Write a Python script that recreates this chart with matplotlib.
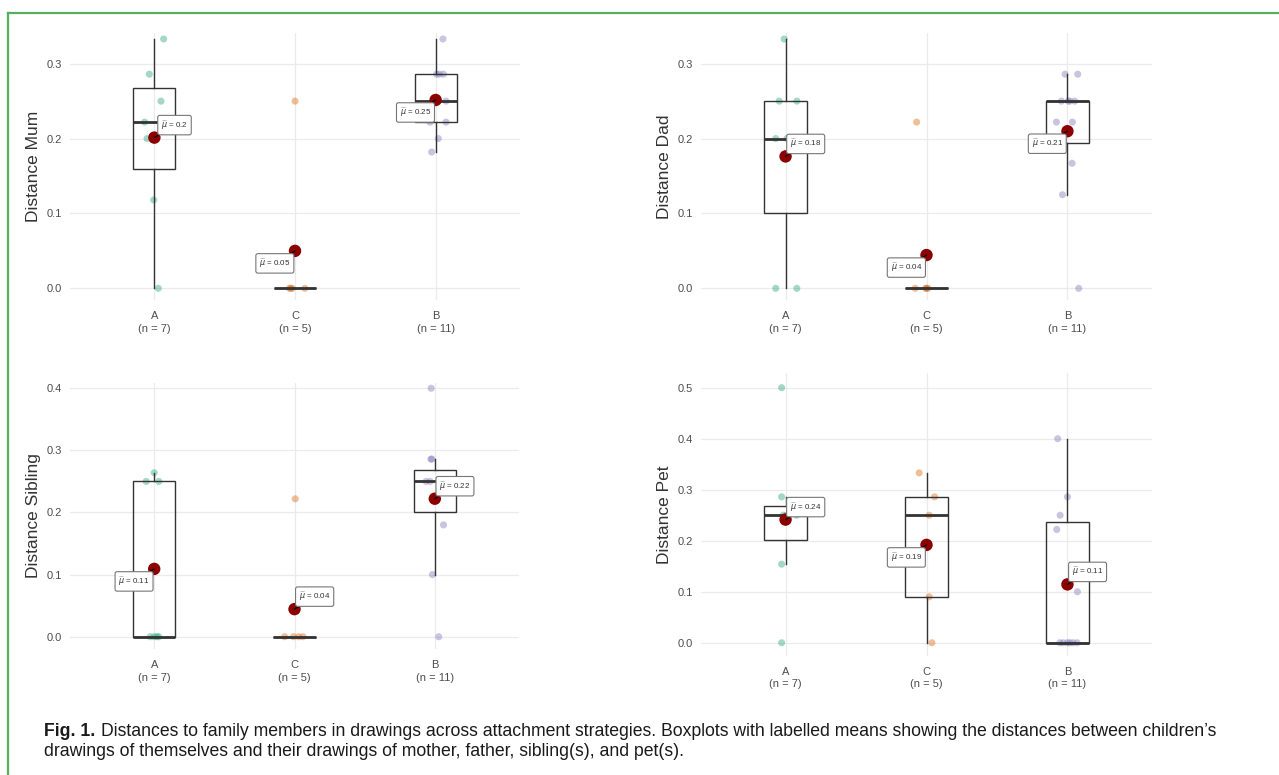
import numpy as np
import matplotlib
matplotlib.use("Agg")
import matplotlib.pyplot as plt
from matplotlib.lines import Line2D
from matplotlib.ticker import FormatStrFormatter

plt.rcParams["font.family"] = ["Liberation Sans", "DejaVu Sans"]

W, H = 1279, 775

# groups in plotted order, Dark2 colours
groups = ["A", "C", "B"]
group_colors = ["#1B9E77", "#D95F02", "#7570B3"]

# distances per group (A, C, B)
mum_values = [
    [0.333, 0.286, 0.25, 0.222, 0.2, 0.118, 0.0],
    [0.25, 0.0, 0.0, 0.0, 0.0],
    [0.333, 0.286, 0.286, 0.286, 0.25, 0.25, 0.25, 0.222, 0.222, 0.2, 0.182],
]
dad_values = [
    [0.333, 0.25, 0.25, 0.2, 0.2, 0.0, 0.0],
    [0.222, 0.0, 0.0, 0.0, 0.0],
    [0.286, 0.286, 0.25, 0.25, 0.25, 0.25, 0.222, 0.222, 0.167, 0.125, 0.0],
]
sibling_values = [
    [0.264, 0.25, 0.25, 0.0, 0.0, 0.0, 0.0],
    [0.222, 0.0, 0.0, 0.0, 0.0],
    [0.0, 0.1, 0.18, 0.22, 0.222, 0.25, 0.25, 0.25, 0.286, 0.286, 0.4],
]
pet_values = [
    [0.5, 0.286, 0.25, 0.25, 0.25, 0.154, 0.0],
    [0.333, 0.286, 0.25, 0.09, 0.0],
    [0.4, 0.286, 0.25, 0.222, 0.1, 0.0, 0.0, 0.0, 0.0, 0.0, 0.0],
]

# horizontal jitter of each point (category units)
mum_jitter = [
    [0.066, -0.036, 0.047, -0.069, -0.052, -0.005, 0.028],
    [0.0, -0.03, 0.07, -0.04, -0.02],
    [0.052, 0.026, 0.055, 0.007, 0.074, -0.017, 0.019, -0.04, 0.074, 0.019, -0.028],
]
dad_jitter = [
    [-0.01, -0.045, 0.08, -0.07, 0.01, -0.07, 0.08],
    [-0.07, -0.08, 0.0, -0.005, 0.01],
    [-0.017, 0.073, -0.043, 0.005, 0.052, 0.017, -0.078, 0.035, 0.033, -0.035, 0.08],
]
sibling_jitter = [
    [0.0, -0.057, 0.033, -0.028, 0.033, 0.0, 0.02],
    [0.005, -0.07, 0.03, 0.06, -0.007],
    [0.028, -0.017, 0.062, -0.01, 0.014, -0.062, 0.038, -0.033, -0.028, -0.021, -0.026],
]
pet_jitter = [
    [-0.028, -0.028, 0.078, 0.007, -0.017, -0.028, -0.028],
    [-0.052, 0.057, 0.019, 0.019, 0.038],
    [-0.069, 0.0, -0.052, -0.076, 0.071, -0.054, 0.0, 0.04, 0.069, -0.03, 0.017],
]

y_labels = ["Distance Mum", "Distance Dad", "Distance Sibling", "Distance Pet"]
y_ticks = [
    [0.0, 0.1, 0.2, 0.3],
    [0.0, 0.1, 0.2, 0.3],
    [0.0, 0.1, 0.2, 0.3, 0.4],
    [0.0, 0.1, 0.2, 0.3, 0.4, 0.5],
]

caption_bold = "Fig. 1."
caption_line1 = ("Distances to family members in drawings across attachment strategies. "
                 "Boxplots with labelled means showing the distances between children\u2019s")
caption_line2 = "drawings of themselves and their drawings of mother, father, sibling(s), and pet(s)."

# layout (pixels): left, top, right, bottom of each panel
panel_px = [
    (70, 33, 520, 300),
    (701, 33, 1152, 300),
    (70, 383, 519, 649),
    (701, 373, 1152, 655.5),
]
panel_ylim = [(-0.0156, 0.341), (-0.0156, 0.341), (-0.0198, 0.4085), (-0.025, 0.5288)]
# +1: mean label up/right of the point, -1: down/left
label_side = [[1, -1, -1], [1, -1, -1], [-1, 1, 1], [1, -1, 1]]

TEXT = "#4d4d4d"
GRID = "#ebebeb"
LINE = "#333333"


def px_rect(l, t, r, b):
    return [l / W, 1 - b / H, (r - l) / W, (b - t) / H]


def fmt_mean(m):
    s = f"{m:.2f}".rstrip("0").rstrip(".")
    return r"$\widehat{\mu}$ = " + s


fig = plt.figure(figsize=(W / 100, H / 100), dpi=100)

panels = [
    (mum_values, mum_jitter),
    (dad_values, dad_jitter),
    (sibling_values, sibling_jitter),
    (pet_values, pet_jitter),
]
pos = np.arange(1, len(groups) + 1)

for k, (values, jitter) in enumerate(panels):
    ax = fig.add_axes(px_rect(*panel_px[k]))

    # jittered raw points
    for i, (vals, jit) in enumerate(zip(values, jitter)):
        ax.scatter(pos[i] + np.array(jit), vals, s=26, color=group_colors[i],
                   alpha=0.4, edgecolors="none", zorder=2)

    ax.boxplot(values, positions=pos, widths=0.3, showfliers=False, showcaps=False,
               patch_artist=True,
               boxprops=dict(facecolor="none", edgecolor=LINE, linewidth=1.0),
               medianprops=dict(color=LINE, linewidth=2.0),
               whiskerprops=dict(color=LINE, linewidth=1.0),
               zorder=3)

    means = [np.mean(v) for v in values]
    ax.scatter(pos, means, s=80, color="#8B0000", edgecolors="none", zorder=4)
    for i, m in enumerate(means):
        sd = label_side[k][i]
        ax.annotate(fmt_mean(m), xy=(pos[i], m), xytext=(sd * 14.5, sd * 9),
                    textcoords="offset points", ha="center", va="center",
                    fontsize=5.8, color="#333333", zorder=6,
                    bbox=dict(boxstyle="round,pad=0.4,rounding_size=0.25", fc="white",
                              ec="#777777", lw=0.8),
                    arrowprops=dict(arrowstyle="-", color="black", lw=0.8,
                                    shrinkA=0, shrinkB=0))

    ax.set_xlim(0.4, 3.6)
    ax.set_ylim(*panel_ylim[k])
    ax.set_xticks(pos)
    ax.set_xticklabels([f"{g}\n(n = {len(v)})" for g, v in zip(groups, values)],
                       fontsize=8, color=TEXT, linespacing=1.3)
    ax.set_yticks(y_ticks[k])
    ax.yaxis.set_major_formatter(FormatStrFormatter("%.1f"))
    ax.tick_params(axis="y", length=0, pad=6, labelsize=8, labelcolor=TEXT)
    ax.tick_params(axis="x", length=0, pad=8)
    ax.grid(True, color=GRID, linewidth=0.9)
    ax.set_axisbelow(True)
    for sp in ax.spines.values():
        sp.set_visible(False)
    ax.set_ylabel(y_labels[k], fontsize=12.5, color="#333333", labelpad=3.5)

# caption
renderer = fig.canvas.get_renderer()
cap_size = 12.7
t_bold = fig.text(44 / W, 1 - 731 / H, caption_bold, fontsize=cap_size, fontweight="bold",
                  va="center", ha="left", color="#1a1a1a")
bb = t_bold.get_window_extent(renderer)
fig.text((bb.x1 + 6) / W, 1 - 731 / H, caption_line1, fontsize=cap_size, va="center",
         ha="left", color="#1a1a1a")
fig.text(44 / W, 1 - 752 / H, caption_line2, fontsize=cap_size, va="center", ha="left",
         color="#1a1a1a")

# green frame (top and left edges visible)
green = "#5aac5e"
fig.add_artist(Line2D([7.5 / W, 1], [1 - 12.5 / H, 1 - 12.5 / H], color=green, lw=1.6,
                      transform=fig.transFigure))
fig.add_artist(Line2D([7.5 / W, 7.5 / W], [0, 1 - 12.5 / H], color=green, lw=1.6,
                      transform=fig.transFigure))

fig.savefig("out.png", dpi=100)
